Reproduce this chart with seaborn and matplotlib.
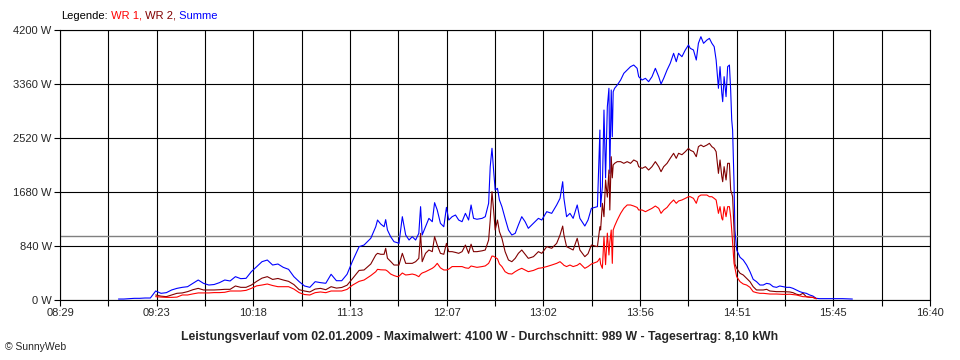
#!/usr/bin/env python
# -*- coding: utf-8 -*-

"""SunnyWeb power curve of 02.01.2009 (WR 1, WR 2 and sum)."""

import numpy as np
import pandas as pd
import seaborn as sns
import matplotlib.pyplot as plt

# %% Data (time in minutes after midnight, power in W).

minutes = [
    # 09:02 - 11:14, 3 min steps
    542, 545, 548, 551, 554, 557, 560, 563, 566, 569,
    572, 575, 578, 581, 584, 587, 590, 593, 596, 599,
    602, 605, 608, 611, 614, 617, 620, 623, 626, 629,
    632, 635, 638, 641, 644, 647, 650, 653, 656, 659,
    662, 665, 668, 671, 674,
    # 11:17 - 13:29
    677.8, 680.6, 684.4, 687.2, 688.2, 690, 691.9, 692.8, 693.8, 695.6,
    697.5, 699.4, 700.3, 702.2, 704.1, 706, 707.8, 709.7, 711.5, 712.5,
    713.4, 715.3, 717.2, 719.1, 720.4, 721.9, 723.7, 725.6, 727.1, 728.4,
    730.3, 732.2, 734, 735.9, 737.8, 739.6, 741, 742.4, 744.3, 747.2,
    749, 750.9, 751.8, 752.8, 753.7, 754.6, 755.9, 757, 758.4, 760.2,
    762.1, 764, 765.9, 767.7, 769.6, 771.5, 773.3, 776.2, 779, 780.9,
    783.7, 786.5, 789.3, 791.2, 792.7, 793.4, 794.9, 796.8, 798.6, 800.9,
    802.4, 805.2, 807, 808.9,
    # 13:32 - 14:49
    812.3, 813.7, 814.1, 815.1, 816, 816.9, 817.9, 818.8, 819.3, 820.1,
    820.7, 821.2, 822, 823.5, 825.4, 827.2, 829.1, 831, 832.8, 834.7,
    835.6, 837.5, 839.4, 841.2, 843.1, 845, 846.9, 848.2, 849.7, 851.6,
    853.4, 855.3, 856.8, 858.1, 860, 861.9, 863.7, 864.7, 866.5, 868.1,
    869.3, 870.7, 872.2, 874.1, 875.5, 876.9, 878.2, 879.3, 880.6, 881.5,
    882.5, 883, 883.8, 884.9, 885.8, 886.8, 887.5, 888.1, 888.6,
    # 14:49 - 15:56
    889.4, 889.9, 890.9, 892.8, 894.6, 896.5, 898.4, 900.2, 902.1, 904,
    905.9, 907.8, 909.6, 911.5, 913.4, 915.2, 917.1, 919, 920.9, 922.7,
    924.6, 926.5, 928.3, 930.2, 932.1, 933.9, 935.8, 937.7, 943.3, 950.6,
    956.2,
]

summe = [
    15, 15, 20, 26, 26, 31, 31, 140, 104, 114,
    156, 181, 197, 207, 259, 311, 259, 233, 241, 270,
    311, 296, 363, 332, 337, 441, 519, 596, 622, 544,
    560, 508, 477, 363, 285, 218, 197, 285, 270, 260,
    400, 300, 300, 400, 600,
    829, 855, 960, 1140, 1244, 1182, 1140, 1250, 1089, 985,
    907, 891, 880, 1296, 1011, 933, 985, 933, 1037, 1452,
    1011, 1140, 1270, 1218, 1514, 1400, 1193, 1140, 1441, 1244,
    1296, 1322, 1244, 1218, 1348, 1244, 1478, 1270, 1256, 1270,
    1296, 1504, 2074, 2360, 2022, 1711, 1737, 1556, 1452, 1270,
    1089, 1011, 1037, 1167, 1296, 1218, 1115, 1193, 1270, 1244,
    1374, 1348, 1478, 1581, 1840, 1581, 1296, 1348, 1270, 1478,
    1270, 1151, 1244, 1426,
    1452, 2644, 1450, 1763, 2955, 1900, 3007, 3293, 1970, 3267,
    2540, 3240, 3293, 3344, 3422, 3526, 3578, 3630, 3655, 3604,
    3474, 3422, 3448, 3396, 3474, 3604, 3474, 3360, 3448, 3578,
    3682, 3837, 3707, 3837, 3785, 3889, 3967, 3915, 3889, 3733,
    3993, 4096, 3993, 4044, 4070, 3993, 3941, 3733, 3293, 3630,
    3215, 3085, 3474, 3163, 3630, 3655, 3267, 2800, 2644,
    1815, 1089, 778, 664, 622, 544, 441, 322, 285, 233,
    233, 259, 249, 207, 197, 218, 207, 197, 197, 181,
    156, 130, 114, 104, 78, 62, 26, 21, 21, 21,
    15,
]

wr2 = [
    None, None, None, None, None, None, None, 78, 60, 52,
    78, 104, 110, 130, 160, 181, 156, 156, 156, 160,
    166, 166, 218, 197, 197, 233, 290, 340, 363, 320,
    335, 311, 290, 240, 160, 140, 125, 170, 181, 160,
    207, 185, 195, 230, 330,
    460, 467, 560, 700, 726, 711, 711, 804, 650, 600,
    544, 544, 544, 726, 570, 570, 570, 596, 648, 1037,
    596, 726, 778, 752, 985, 855, 726, 711, 881, 752,
    752, 740, 726, 752, 855, 726, 868, 752, 752, 765,
    778, 933, 1244, 1685, 1400, 1089, 1244, 1063, 960, 752,
    622, 596, 648, 726, 778, 711, 648, 674, 752, 726,
    830, 804, 881, 1011, 1150, 1011, 830, 804, 778, 960,
    778, 674, 720, 855,
    830, 1140, 1089, 1504, 1296, 1867, 1600, 2022, 1400, 2229,
    1900, 2100, 2126, 2152, 2152, 2126, 2152, 2126, 2178, 2152,
    2074, 2048, 2074, 2022, 2074, 2152, 2074, 1996, 2074, 2126,
    2204, 2282, 2204, 2282, 2260, 2307, 2359, 2330, 2307, 2229,
    2385, 2411, 2385, 2411, 2437, 2385, 2359, 2307, 1970, 2178,
    1918, 1840, 2074, 1867, 2126, 2126, 1711, 1659, 1607,
    1089, 560, 493, 415, 389, 337, 285, 207, 156, 156,
    156, 166, 140, 135, 130, 130, 130, 128, 125, 114,
    90, 78, 104, 52, 45, 41, 20, None, None, None,
    None,
]

wr1 = [
    None, None, None, None, None, None, None, 52, 45, 41,
    41, 45, 78, 78, 95, 110, 110, 110, 115, 115,
    120, 140, 140, 140, 150, 181, 220, 233, 249, 225,
    207, 207, 207, 170, 114, 85, 78, 114, 125, 114,
    140, 140, 140, 165, 230,
    290, 311, 380, 440, 477, 470, 467, 467, 450, 404,
    380, 363, 370, 420, 389, 395, 404, 390, 363, 400,
    420, 440, 467, 493, 520, 570, 500, 467, 467, 480,
    520, 520, 520, 520, 500, 493, 529, 520, 508, 520,
    530, 570, 620, 684, 680, 664, 640, 560, 520, 440,
    410, 404, 441, 470, 493, 467, 441, 460, 493, 500,
    520, 544, 570, 596, 560, 540, 520, 544, 520, 540,
    570, 493, 520, 560,
    596, 650, 560, 493, 985, 550, 1040, 700, 900, 1089,
    570, 1089, 1150, 1244, 1348, 1426, 1478, 1478, 1462, 1440,
    1400, 1400, 1374, 1400, 1426, 1462, 1426, 1348, 1400, 1440,
    1504, 1556, 1504, 1540, 1556, 1581, 1607, 1607, 1581, 1504,
    1607, 1633, 1633, 1633, 1607, 1607, 1581, 1556, 1348, 1452,
    1270, 1244, 1452, 1296, 1452, 1452, 1296, 1089, 882,
    570, 500, 363, 285, 249, 233, 197, 130, 114, 104,
    104, 98, 93, 93, 93, 90, 88, 88, 90, 85,
    78, 65, 52, 50, 41, 41, 20, None, None, None,
    None,
]

x_tick_labels = ["08:29", "09:23", "10:18", "11:13", "12:07",
                 "13:02", "13:56", "14:51", "15:45", "16:40"]
y_ticks = [0, 840, 1680, 2520, 3360, 4200]
average = 989
title = ("Leistungsverlauf vom 02.01.2009 - Maximalwert: 4100 W - "
         "Durchschnitt: 989 W - Tagesertrag: 8,10 kWh")

# %% Plot.

sns.set_style("white")
plt.rcParams["font.family"] = ["Liberation Sans", "DejaVu Sans"]
plt.rcParams["font.size"] = 8

df = pd.DataFrame({"minute": minutes, "Summe": summe, "WR 2": wr2, "WR 1": wr1})

fig = plt.figure(figsize=(9.6, 3.6), dpi=100)
fig.patch.set_facecolor("white")
ax = fig.add_axes([60 / 960, 60 / 360, 870 / 960, 270 / 360])

ax.axhline(average, color="#808080", lw=1.0, zorder=1)
for col, colour in [("Summe", "#0000FF"), ("WR 2", "#800000"), ("WR 1", "#FF0000")]:
    part = df[["minute", col]].dropna()
    sns.lineplot(data=part, x="minute", y=col, color=colour, lw=0.8,
                 estimator=None, ax=ax, zorder=3)

x_major = np.linspace(509, 1000, len(x_tick_labels))
x_minor = (x_major[:-1] + x_major[1:]) / 2
ax.set_xlim(x_major[0], x_major[-1])
ax.set_ylim(0, 4200)
ax.set_xticks(x_major, x_tick_labels)
ax.set_xticks(x_minor, minor=True)
ax.set_yticks(y_ticks, [f"{v} W" for v in y_ticks])
ax.set_xlabel("")
ax.set_ylabel("")

ax.grid(True, axis="x", which="both", color="black", lw=0.8)
ax.grid(True, axis="y", which="major", color="black", lw=0.8)
ax.set_axisbelow(True)
ax.tick_params(which="both", bottom=True, left=True, direction="out",
               length=4, width=0.8, color="black", labelsize=8, pad=2)
for spine in ax.spines.values():
    spine.set_color("black")
    spine.set_linewidth(0.8)

# Legend as coloured text pieces
t0 = fig.text(61 / 960, 1 - 16 / 360, "Legende:", color="black", va="center")
prev = t0
for label, colour in [(" WR 1,", "#FF0000"), (" WR 2,", "#800000"), (" Summe", "#0000FF")]:
    prev = ax.annotate(label, xy=(1, 0), xycoords=prev, va="bottom", ha="left",
                       color=colour, annotation_clip=False)

fig.text(480 / 960, 1 - 337 / 360, title, ha="center", va="center",
         weight="bold", fontsize=8.8)
fig.text(5 / 960, 1 - 347 / 360, "© SunnyWeb", va="center", fontsize=7.5)

fig.savefig("out.png", dpi=100)
